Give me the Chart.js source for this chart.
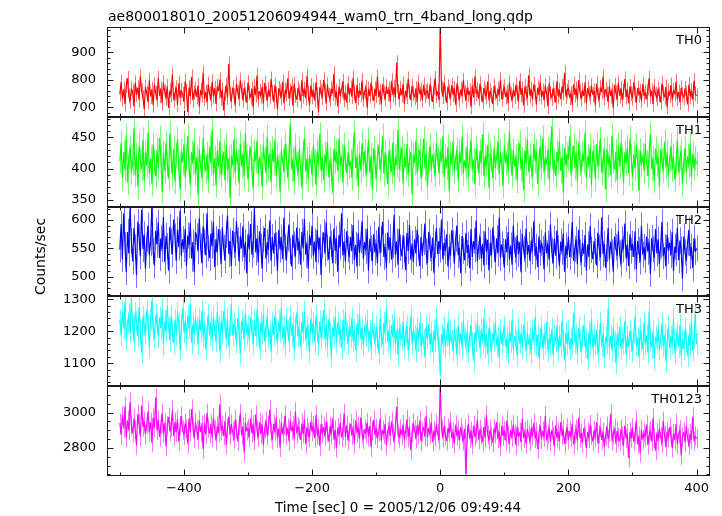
<!DOCTYPE html>
<html><head><meta charset="utf-8">
<script src="https://cdn.jsdelivr.net/npm/chart.js@4.4.1/dist/chart.umd.min.js"></script>
<style>
html,body{margin:0;padding:0;background:#fff;}
#wrap{position:relative;width:722px;height:516px;background:#fff;}
canvas{position:absolute;left:0;top:0;}
</style></head><body><div id="wrap">
<canvas id="c0" width="722" height="516"></canvas>
<canvas id="c1" width="722" height="516"></canvas>
<canvas id="c2" width="722" height="516"></canvas>
<canvas id="c3" width="722" height="516"></canvas>
<canvas id="c4" width="722" height="516"></canvas>
</div>
<script>
// ---- data (count rates, one bin every 2 s starting at t = -500 s) ----
const timeStart = -500;
const timeStep = 2;
const seriesNames = ['TH0', 'TH1', 'TH2', 'TH3', 'TH0123'];
const th0 = [
748,792,731,766,712,779,805,741,722,768,
757,703,789,746,771,728,812,760,735,694,
774,752,720,798,739,765,708,783,751,729,
806,742,768,715,790,757,733,776,698,761,
744,819,726,752,771,709,788,735,762,747,
721,795,758,683,772,740,811,726,754,767,
738,779,702,763,745,826,731,756,718,784,
750,727,793,741,769,712,776,759,801,733,
764,689,751,780,736,858,748,721,772,743,
707,786,755,730,799,762,725,771,746,717,
790,753,735,768,701,777,744,816,729,759,
742,774,713,788,751,726,765,739,803,754,
720,781,747,694,769,758,734,792,715,763,
748,805,731,760,777,706,785,743,728,770,
756,722,798,741,767,733,814,752,709,779,
738,762,725,791,746,684,773,757,736,800,
761,714,783,744,729,768,750,822,735,758,
703,776,741,764,795,727,753,718,787,745,
770,739,807,752,716,781,734,762,745,797,
728,756,773,698,767,741,789,750,724,768,
743,812,737,760,711,784,752,731,776,749,
765,720,796,746,773,735,862,757,729,770,
744,785,712,761,739,803,755,727,778,750,
736,769,718,791,748,764,726,782,743,757,
762,731,784,749,720,771,806,742,758,727,
1005,768,739,790,751,716,775,757,733,781,
746,769,710,787,752,728,766,741,798,755,
723,772,745,760,702,779,736,812,750,764,
731,786,748,719,770,755,739,794,726,761,
744,712,778,752,733,767,746,801,729,758,
775,738,756,714,789,747,725,763,740,782,
753,721,797,745,768,707,776,751,734,817,
742,766,729,784,755,711,771,746,792,737,
760,725,779,748,703,787,752,733,769,744,
718,795,741,763,730,776,754,826,739,758,
772,735,750,709,784,745,767,728,798,756,
731,763,742,791,715,770,751,737,779,746,
760,708,786,744,727,773,755,812,734,766,
749,720,777,741,762,697,781,753,730,789,
742,768,726,757,803,738,764,715,776,750,
733,791,748,716,770,744,759,724,785,741,
755,729,771,806,740,761,712,778,747,732,
768,745,719,787,752,736,774,701,759,743,
781,727,762,748,794,731,756,718,771,746,
735,769,752,711,783,740,760,728,797,749,
742];
const th1 = [
412,441,385,426,398,452,377,419,433,394,
408,465,389,422,371,437,413,399,446,381,
427,404,458,392,416,375,439,411,387,430,
401,449,418,362,425,396,441,407,384,456,
414,390,432,379,421,447,398,366,428,410,
439,386,415,452,401,374,426,409,443,392,
418,357,431,404,385,449,412,396,423,380,
435,408,462,391,417,373,428,402,444,389,
411,426,381,438,398,416,352,420,405,447,
393,429,411,376,440,403,424,387,456,409,
382,418,434,397,368,427,412,445,391,419,
406,371,438,415,393,451,400,424,378,432,
410,446,388,421,404,363,429,413,396,440,
419,385,427,472,399,414,378,436,407,392,
431,401,369,425,448,395,416,383,422,409,
390,437,412,374,428,405,455,397,418,381,
423,408,443,386,414,399,361,432,411,427,
396,449,404,420,377,438,415,392,426,403,
412,385,430,459,401,418,371,424,397,441,
406,428,389,414,446,393,421,367,433,410,
382,420,437,398,413,452,391,426,404,375,
429,411,394,442,387,419,405,463,398,417,
433,376,421,402,440,390,414,427,358,423,
409,445,392,418,431,384,407,448,400,425,
371,414,436,397,422,405,389,440,416,393,
428,411,452,386,419,402,435,364,424,408,
443,395,417,430,381,426,409,451,392,413,
400,437,386,421,446,398,414,375,432,419,
392,428,410,455,388,420,404,438,369,425,
414,384,433,401,418,444,391,427,406,372,
437,409,423,395,460,412,388,430,403,419,
380,426,441,398,415,366,429,408,447,394,
421,403,387,439,412,428,375,417,434,400,
449,393,418,406,431,382,424,468,398,413,
388,427,410,444,396,419,361,433,405,422,
415,451,390,416,437,401,426,379,442,409,
395,424,411,458,386,420,404,436,373,428,
417,384,439,402,425,447,393,414,430,366,
431,406,420,389,453,412,398,427,381,438,
403,442,415,377,426,409,434,392,448,419,
385,423,401,437,412,364,429,406,421,396,
440,410,388,425,455,399,416,380,432,407,
419,371,430,413,397,443,402,426,389,415,
436,398,421,382,409,447,393,417,428,375,
411,433,394,420,405,439,386,424,401,416,
407];
const th2 = [
548,593,531,612,556,508,579,541,624,563,
527,586,552,503,597,570,536,618,549,575,
514,566,590,538,559,627,545,520,581,557,
596,533,568,549,605,526,572,554,511,588,
562,540,601,571,528,583,552,617,537,566,
549,584,519,573,556,595,532,561,508,579,
571,545,603,553,524,589,562,538,612,550,
533,576,555,597,517,566,543,584,559,522,
587,551,529,574,608,540,563,519,581,556,
542,598,564,527,572,550,589,534,561,506,
575,548,593,539,556,621,543,568,525,580,
553,514,566,586,532,561,547,599,528,570,
541,577,556,510,583,548,569,531,604,552,
529,568,592,545,518,574,557,536,587,546,
563,521,579,550,602,539,558,514,573,555,
590,537,562,526,583,547,569,503,556,578,
541,596,551,530,571,558,524,585,546,567,
509,574,553,612,538,562,527,580,549,535,
570,545,591,529,556,518,577,542,564,598,
532,561,546,585,511,567,550,528,575,543,
559,524,588,541,566,597,535,553,516,578,
547,569,530,556,609,539,562,521,584,551,
536,573,548,512,577,545,591,530,558,526,
566,541,583,552,519,570,537,561,594,544,
524,579,550,533,569,507,556,586,540,563,
548,601,531,560,545,575,518,553,537,582,
559,523,567,590,538,551,506,572,546,529,
577,542,556,515,584,535,563,548,599,527,
553,571,532,558,520,580,544,565,511,560,
538,587,549,526,568,541,604,533,557,545,
516,566,543,579,530,555,521,590,547,534,
573,540,561,508,576,549,532,585,539,556,
528,564,545,598,536,553,517,571,542,560,
549,513,578,541,558,530,592,546,524,567,
537,581,550,519,562,544,576,509,555,538,
571,535,556,597,528,549,566,522,583,543,
525,560,540,574,511,557,536,589,547,531,
563,545,520,578,551,534,605,540,558,516,
549,586,530,562,543,509,571,552,537,580,
541,523,566,548,594,532,557,519,575,546,
558,535,580,513,563,547,527,590,539,552,
530,571,544,561,505,568,549,533,584,541,
566,522,555,597,536,552,518,574,546,560,
538,579,510,553,542,587,529,564,548,497,
571,543,528,560,582,536,553,515,568,544,
550];
const th3 = [
1235,1188,1262,1207,1291,1174,1226,1249,1196,1303,
1211,1168,1257,1229,1185,1274,1202,1133,1245,1219,
1193,1266,1221,1150,1238,1297,1204,1179,1251,1226,
1182,1243,1210,1268,1157,1232,1199,1279,1214,1171,
1247,1203,1164,1236,1188,1258,1225,1141,1217,1272,
1196,1230,1176,1249,1209,1285,1163,1224,1190,1241,
1213,1158,1237,1199,1264,1181,1226,1144,1208,1252,
1187,1229,1173,1246,1202,1168,1259,1215,1138,1231,
1194,1262,1209,1177,1238,1152,1219,1283,1186,1225,
1207,1164,1241,1198,1129,1233,1212,1176,1255,1190,
1218,1172,1244,1201,1159,1236,1185,1267,1209,1146,
1229,1193,1252,1168,1214,1240,1181,1203,1136,1227,
1188,1249,1206,1163,1232,1197,1274,1178,1215,1155,
1238,1201,1169,1246,1187,1223,1142,1211,1258,1184,
1207,1150,1229,1196,1262,1173,1215,1188,1134,1240,
1192,1226,1167,1248,1201,1158,1231,1179,1210,1268,
1176,1219,1153,1237,1194,1121,1212,1186,1245,1165,
1228,1189,1207,1147,1235,1172,1258,1195,1160,1216,
1183,1241,1168,1206,1139,1222,1190,1254,1175,1209,
1156,1218,1187,1233,1170,1201,1143,1227,1192,1164,
1213,1178,1131,1239,1184,1159,1226,1195,1270,1166,
1201,1147,1219,1181,1236,1162,1204,1125,1211,1188,
1174,1229,1151,1197,1216,1140,1183,1247,1162,1205,
1186,1138,1210,1169,1228,1152,1193,1173,1119,1214,
1177,1222,1158,1195,1136,1203,1168,1241,1181,1147,
1062,1191,1164,1213,1149,1186,1229,1155,1198,1171,
1140,1205,1176,1124,1218,1160,1193,1147,1232,1178,
1157,1201,1135,1185,1219,1163,1108,1196,1170,1226,
1183,1148,1207,1166,1241,1152,1190,1129,1211,1174,
1137,1195,1168,1228,1155,1182,1117,1204,1161,1187,
1214,1150,1179,1131,1198,1166,1236,1144,1185,1170,
1123,1208,1162,1190,1147,1221,1173,1139,1196,1158,
1181,1132,1203,1167,1244,1154,1188,1115,1176,1212,
1145,1192,1163,1229,1137,1179,1158,1207,1126,1186,
1168,1215,1140,1184,1153,1233,1171,1109,1195,1160,
1201,1143,1177,1156,1258,1164,1189,1130,1210,1172,
1135,1183,1219,1150,1174,1112,1197,1161,1237,1146,
1188,1158,1204,1129,1170,1226,1153,1192,1118,1181,
1163,1271,1147,1185,1139,1209,1167,1101,1190,1155,
1213,1146,1178,1160,1232,1127,1184,1152,1201,1170,
1138,1195,1246,1156,1179,1120,1207,1168,1144,1228,
1159,1187,1133,1262,1171,1149,1198,1114,1182,1165,
1206,1142,1175,1224,1153,1188,1106,1170,1215,1147,
1183,1160,1237,1131,1174,1196,1151,1219,1123,1178,
1145,1207,1168,1124,1189,1156,1232,1139,1176,1254,
1160];
const th0123 = [
2941,2873,2986,2912,3034,2858,2957,2899,3062,2925,
2884,2968,2903,2816,2992,2937,2865,3041,2918,2951,
2876,2935,3008,2890,2947,2829,2971,2914,3087,2898,
2959,2862,2933,2997,2881,2943,2808,2926,2975,2894,
2917,3014,2868,2946,2889,2962,2835,2928,2981,2901,
2872,2939,2908,2824,2966,2891,3021,2917,2853,2944,
2903,2846,2957,2889,2929,2794,2941,2876,2998,2912,
2881,2934,2860,2972,2905,2841,2923,2886,3046,2897,
2929,2867,2952,2819,2914,2978,2873,2936,2892,2849,
2961,2905,2838,2927,2995,2871,2918,2776,2944,2896,
2912,2859,2968,2884,2931,2843,2989,2902,2861,2947,
2878,2936,2817,2909,2953,2870,2924,3018,2887,2846,
2935,2892,2971,2855,2911,2803,2943,2878,2926,2984,
2869,2914,2838,2957,2896,2925,2851,3005,2883,2921,
2904,2846,2938,2879,2962,2822,2918,2887,2859,2949,
2893,2927,2856,2986,2871,2908,2812,2935,2880,2918,
2866,2949,2891,2837,2922,2876,2968,2848,2903,2799,
2915,2874,2941,2859,2897,2996,2862,2928,2843,2889,
2937,2870,2911,2825,2956,2884,2919,2851,2973,2879,
2848,2906,2881,2944,2863,2924,2805,2897,2958,2872,
2913,2853,2889,2967,2841,2902,2876,2935,2816,2894,
2926,2868,2951,2882,2837,2918,3032,2879,2856,2909,
2871,2933,2847,2896,2962,2859,2921,2788,2887,2940,
2903,2852,2929,2874,2955,2838,2891,2918,2865,2982,
2859,2914,2877,2946,2833,2898,2862,2937,2881,2845,
3165,2903,2858,2925,2871,2840,2912,2886,2948,2854,
2889,2823,2931,2866,2902,2845,2917,2877,2839,2908,
2651,2874,2936,2853,2895,2818,2927,2862,2884,2961,
2847,2906,2871,2833,2919,2858,2987,2876,2842,2903,
2865,2829,2911,2883,2947,2851,2890,2806,2925,2868,
2899,2841,2956,2872,2827,2904,2859,2933,2878,2815,
2921,2863,2888,2834,2967,2856,2895,2821,2907,2874,
2838,2912,2867,2941,2853,2892,2794,2882,2926,2849,
2895,2861,2983,2843,2878,2917,2835,2902,2866,2812,
2928,2857,2891,2838,2946,2869,2904,2823,2880,2915,
2847,2896,2861,2937,2819,2879,2908,2842,2971,2856,
2884,2829,2913,2866,2799,2891,2853,2932,2870,2837,
2902,2858,2946,2825,2877,2916,2845,2889,2806,2868,
2923,2851,2887,2994,2839,2873,2911,2826,2895,2861,
2838,2905,2869,2812,2927,2854,2881,2743,2892,2857,
2915,2834,2878,2957,2821,2866,2771,2903,2848,2886,
2862,2931,2817,2875,2899,2836,2968,2854,2784,2887,
2841,2909,2863,2826,2952,2871,2805,2893,2857,2918,
2868,2799,2884,2846,2937,2822,2875,2904,2758,2863,
2891,2834,2926,2857,2813,2882,2845,2976,2839,2868,
2852];
// approximate 1-sigma error bar half-lengths
const errorHalf = [27, 20, 23, 34, 54];
// axis ranges and tick labels
const yMins = [665, 338, 466, 1029, 2641];
const yMaxs = [992, 483, 623, 1310, 3151];
const yTickLabels = [[700, 800, 900], [350, 400, 450], [500, 550, 600], [1100, 1200, 1300], [2800, 3000]];
const yMinorSteps = [20, 10, 10, 20, 50];
const xMin = -520, xMax = 421;
const xTickLabels = [-400, -200, 0, 200, 400];
const xMinorTicks = [-500, -300, -100, 100, 300];
const titleText = 'ae800018010_20051206094944_wam0_trn_4band_long.qdp';
const yTitle = 'Counts/sec';
const xTitle = 'Time [sec] 0 = 2005/12/06 09:49:44';

// ---- styling / layout ----
const allSeries = [th0, th1, th2, th3, th0123];
const lineColors = ['#ff0000', '#00ff00', '#0000ff', '#00ffff', '#ff00ff'];
const errColors = ['rgba(255,0,0,0.55)', 'rgba(0,255,0,0.55)', 'rgba(0,0,255,0.55)', 'rgba(0,255,255,0.6)', 'rgba(255,0,255,0.55)'];
const panelTop = [27, 117, 207, 296, 386];
const panelBottom = [117, 207, 296, 386, 476];
const W = 722, H = 516, plotLeft = 107, plotRight = 710;
const FONT_FAMILY = '"DejaVu Sans", "Liberation Sans", sans-serif';
const FRAME = '#1a1a1a';

function fmt(v) { return String(v).replace('-', '\u2212'); }

function panelPlugin(i) {
  return {
    id: 'panel' + i,
    beforeDatasetsDraw(chart) {
      const {ctx, chartArea: a, scales: {x, y}} = chart;
      const vals = allSeries[i], e = errorHalf[i];
      ctx.save();
      ctx.beginPath();
      ctx.rect(a.left, a.top, a.right - a.left, a.bottom - a.top);
      ctx.clip();
      ctx.strokeStyle = errColors[i];
      ctx.lineWidth = 1;
      ctx.beginPath();
      vals.forEach((v, k) => {
        const px = Math.round(x.getPixelForValue(timeStart + k * timeStep)) + 0.5;
        ctx.moveTo(px, y.getPixelForValue(v + e));
        ctx.lineTo(px, y.getPixelForValue(v - e));
      });
      ctx.stroke();
      ctx.restore();
    },
    afterDatasetsDraw(chart) {
      const {ctx, chartArea: a, scales: {x, y}} = chart;
      const L = Math.round(a.left) + 0.5, R = Math.round(a.right) - 0.5;
      const T = Math.round(a.top) + 0.5, B = Math.round(a.bottom) - 0.5;
      ctx.save();
      ctx.strokeStyle = FRAME;
      ctx.lineWidth = 1;
      ctx.strokeRect(L, T, R - L, B - T);
      ctx.beginPath();
      const majors = yTickLabels[i];
      const ms = yMinorSteps[i];
      for (let v = Math.ceil(yMins[i] / ms) * ms; v <= yMaxs[i]; v += ms) {
        const len = majors.includes(v) ? 6 : 3;
        const py = Math.round(y.getPixelForValue(v)) + 0.5;
        ctx.moveTo(L, py); ctx.lineTo(L + len, py);
        ctx.moveTo(R, py); ctx.lineTo(R - len, py);
      }
      const xt = xTickLabels.map(v => [v, 6]).concat(xMinorTicks.map(v => [v, 3]));
      xt.forEach(([v, len]) => {
        const px = Math.round(x.getPixelForValue(v)) + 0.5;
        ctx.moveTo(px, T); ctx.lineTo(px, T + len);
        ctx.moveTo(px, B); ctx.lineTo(px, B - len);
      });
      ctx.stroke();
      ctx.fillStyle = '#000';
      ctx.font = '13px ' + FONT_FAMILY;
      ctx.textAlign = 'right';
      ctx.textBaseline = 'alphabetic';
      ctx.fillText(seriesNames[i], 702, a.top + 16.5);
      if (i === 0) {
        ctx.font = '14px ' + FONT_FAMILY;
        ctx.textAlign = 'left';
        ctx.fillText(titleText, 108, 21);
        ctx.save();
        ctx.translate(45, 256.5);
        ctx.rotate(-Math.PI / 2);
        ctx.textAlign = 'center';
        ctx.fillText(yTitle, 0, 0);
        ctx.restore();
      }
      if (i === 4) {
        ctx.font = '13.5px ' + FONT_FAMILY;
        ctx.textAlign = 'center';
        ctx.fillText(xTitle, 398, 511.5);
      }
      ctx.restore();
    }
  };
}

for (let i = 0; i < 5; i++) {
  const last = i === 4;
  const pts = allSeries[i].map((v, k) => ({x: timeStart + k * timeStep, y: v}));
  const xScale = {
    type: 'linear', min: xMin, max: xMax, display: last,
    afterBuildTicks: s => { s.ticks = xTickLabels.map(v => ({value: v})); },
    grid: {display: false, drawTicks: false}, border: {display: false},
    ticks: {padding: 5, color: '#000', font: {family: FONT_FAMILY, size: 13}, maxRotation: 0, autoSkip: false,
            callback: v => fmt(v)}
  };
  if (last) xScale.afterFit = s => { s.height = H - panelBottom[i]; };
  new Chart(document.getElementById('c' + i), {
    type: 'line',
    data: {datasets: [{
      data: pts, borderColor: lineColors[i], borderWidth: 1.15, pointRadius: 0,
      tension: 0, fill: false, borderJoinStyle: 'bevel'
    }]},
    options: {
      animation: false, responsive: false, devicePixelRatio: 1,
      layout: {padding: {top: panelTop[i], left: 0, right: W - plotRight, bottom: last ? 0 : H - panelBottom[i]}},
      plugins: {legend: {display: false}, tooltip: {enabled: false}, title: {display: false}},
      scales: {
        x: xScale,
        y: {
          type: 'linear', min: yMins[i], max: yMaxs[i],
          afterFit: s => { s.width = plotLeft; },
          afterBuildTicks: s => { s.ticks = yTickLabels[i].map(v => ({value: v})); },
          grid: {display: false, drawTicks: false}, border: {display: false},
          ticks: {padding: 11, color: '#000', font: {family: FONT_FAMILY, size: 13}, autoSkip: false,
                  callback: v => String(v)}
        }
      }
    },
    plugins: [panelPlugin(i)]
  });
}
</script>
</body></html>
